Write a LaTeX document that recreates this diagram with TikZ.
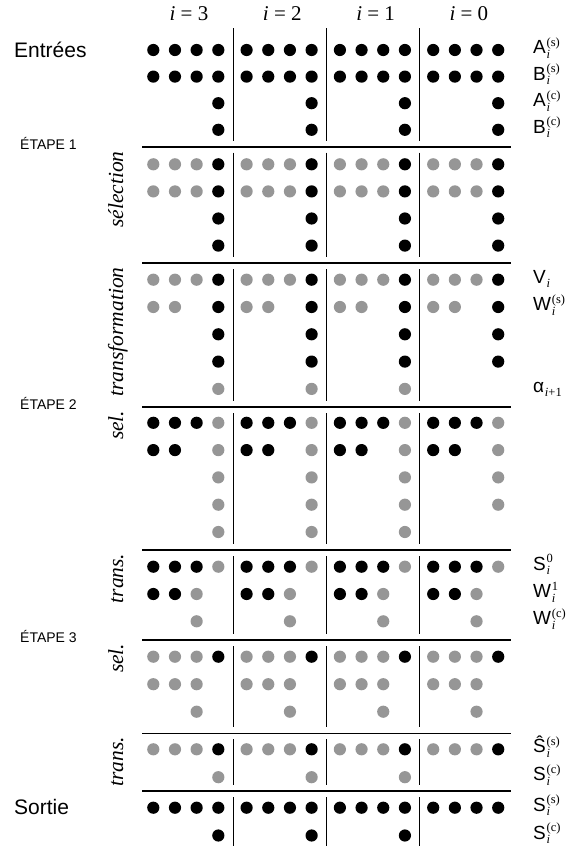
\documentclass[tikz,border=0pt]{standalone}
\usepackage{fontspec}
\setmainfont{Liberation Serif}
\setsansfont{Liberation Sans}
\definecolor{dotgray}{RGB}{150,150,150}
\newcommand{\fsz}[1]{\fontsize{#1}{#1}\selectfont}
% variable name with stacked subscript and superscript
\newcommand{\varlab}[3]{\textsf{#1}\kern0.8pt\rlap{\raisebox{-4.5pt}{\fsz{12.5}#2}}\raisebox{7.5pt}{\fsz{12.5}#3}}
% one row of dots: y, colours of the four bits, groups drawn
\newcommand{\dotrow}[3]{%
  \foreach \g in {#3}{%
    \foreach \cl [count=\k from 0] in {#2}{%
      \fill[fill=\cl] ({153.3+93.3*\g+21.67*\k},#1) circle[radius=6.1];
    }}}
% separators between the digit groups, from y1 to y2
\newcommand{\groupseps}[2]{%
  \foreach \g in {1,2,3}{%
    \draw[sepline] ({140+93.3*\g},#1) -- ({140+93.3*\g},#2);
  }}
\begin{document}
\begin{tikzpicture}[x=1pt,y=-1pt,
  sepline/.style={line width=0.9pt},
  thickrule/.style={line width=2.4pt},
  thinrule/.style={line width=1.1pt},
  hdr/.style={inner sep=0pt,anchor=base,font=\fsz{21}},
  mainlab/.style={inner sep=0pt,anchor=base west,font=\fsz{21}\sffamily},
  etape/.style={inner sep=0pt,anchor=base west,font=\fsz{14}\sffamily},
  phase/.style={inner sep=0pt,rotate=90,anchor=base east,font=\fsz{21.5}\itshape},
  varname/.style={inner sep=0pt,anchor=base west,font=\fsz{19}}]
\useasboundingbox (0,0) rectangle (568,849);

% column headers
\node[hdr] (h3) at (189,20.5) {\textit{i} = 3};
\node[hdr] (h2) at (282.3,20.5) {\textit{i} = 2};
\node[hdr] (h1) at (375.6,20.5) {\textit{i} = 1};
\node[hdr] (h0) at (468.9,20.5) {\textit{i} = 0};

% left-hand labels
\node[mainlab] (entrees) at (14,57) {Entrées};
\node[mainlab] (sortie) at (14,814.7) {Sortie};
\node[etape] (et1) at (20,149.2) {ÉTAPE 1};
\node[etape] (et2) at (20,409.5) {ÉTAPE 2};
\node[etape] (et3) at (20,642.5) {ÉTAPE 3};

% phase labels, set vertically
\node[phase] (ph1) at (123,151.2) {sélection};
\node[phase] (ph2) at (123,267.2) {transformation};
\node[phase] (ph3) at (123,410.5) {sel.};
\node[phase] (ph4) at (123,553.5) {trans.};
\node[phase] (ph5) at (123,643.5) {sel.};
\node[phase] (ph6) at (123,736.8) {trans.};

% horizontal rules between the phases
\draw[thickrule] (142.3,146.7) -- (510.5,146.7);
\draw[thinrule]  (142.3,263) -- (510.5,263);
\draw[thickrule] (142.3,407) -- (510.5,407);
\draw[thinrule]  (142.3,550) -- (510.5,550);
\draw[thickrule] (142.3,640) -- (510.5,640);
\draw[thinrule]  (142.3,733.3) -- (510.5,733.3);
\draw[thickrule] (142.3,791) -- (510.5,791);

% group separators in each block
\groupseps{28}{141}
\groupseps{152.5}{257}
\groupseps{269}{401}
\groupseps{413}{544}
\groupseps{556}{634}
\groupseps{646}{727}
\groupseps{739}{785}
\groupseps{797}{846}

% inputs
\dotrow{50}{black,black,black,black}{0,1,2,3}
\dotrow{76.6}{black,black,black,black}{0,1,2,3}
\dotrow{103.2}{none,none,none,black}{0,1,2,3}
\dotrow{129.8}{none,none,none,black}{0,1,2,3}
% step 1: selection
\dotrow{164.3}{dotgray,dotgray,dotgray,black}{0,1,2,3}
\dotrow{191.4}{dotgray,dotgray,dotgray,black}{0,1,2,3}
\dotrow{218.5}{none,none,none,black}{0,1,2,3}
\dotrow{245.6}{none,none,none,black}{0,1,2,3}
% step 1: transformation
\dotrow{279.7}{dotgray,dotgray,dotgray,black}{0,1,2,3}
\dotrow{307}{dotgray,dotgray,none,black}{0,1,2,3}
\dotrow{334.3}{none,none,none,black}{0,1,2,3}
\dotrow{361.6}{none,none,none,black}{0,1,2,3}
\dotrow{388.9}{none,none,none,dotgray}{0,1,2}
% step 2: selection
\dotrow{422.8}{black,black,black,dotgray}{0,1,2,3}
\dotrow{450.1}{black,black,none,dotgray}{0,1,2,3}
\dotrow{477.4}{none,none,none,dotgray}{0,1,2,3}
\dotrow{504.7}{none,none,none,dotgray}{0,1,2,3}
\dotrow{532}{none,none,none,dotgray}{0,1,2}
% step 2: transformation
\dotrow{566.7}{black,black,black,dotgray}{0,1,2,3}
\dotrow{594}{black,black,dotgray,none}{0,1,2,3}
\dotrow{621.3}{none,none,dotgray,none}{0,1,2,3}
% step 3: selection
\dotrow{656.7}{dotgray,dotgray,dotgray,black}{0,1,2,3}
\dotrow{684.2}{dotgray,dotgray,dotgray,none}{0,1,2,3}
\dotrow{711.7}{none,none,dotgray,none}{0,1,2,3}
% step 3: transformation
\dotrow{749.3}{dotgray,dotgray,dotgray,black}{0,1,2,3}
\dotrow{777.2}{none,none,none,dotgray}{0,1,2}
% outputs
\dotrow{807.7}{black,black,black,black}{0,1,2,3}
\dotrow{835.5}{none,none,none,black}{0,1,2}

% variable names on the right
\node[varname] (as) at (533,53.5) {\varlab{A}{\textit{i}}{(s)}};
\node[varname] (bs) at (533,80.1) {\varlab{B}{\textit{i}}{(s)}};
\node[varname] (ac) at (533,106.7) {\varlab{A}{\textit{i}}{(c)}};
\node[varname] (bc) at (533,133.3) {\varlab{B}{\textit{i}}{(c)}};
\node[varname] (v) at (533,283.2) {\varlab{V}{\textit{i}}{}};
\node[varname] (ws) at (533,310.5) {\varlab{W}{\textit{i}}{(s)}};
\node[varname] (al) at (533,392.4) {\varlab{α}{\textit{i}+1}{}};
\node[varname] (s0) at (533,570.2) {\varlab{S}{\textit{i}}{0}};
\node[varname] (w1) at (533,597.5) {\varlab{W}{\textit{i}}{1}};
\node[varname] (wc) at (533,624.8) {\varlab{W}{\textit{i}}{(c)}};
\node[varname] (sh) at (533,752.8) {\varlab{Ŝ}{\textit{i}}{(s)}};
\node[varname] (sc) at (533,780.7) {\varlab{S}{\textit{i}}{(c)}};
\node[varname] (os) at (533,811.2) {\varlab{S}{\textit{i}}{(s)}};
\node[varname] (oc) at (533,839) {\varlab{S}{\textit{i}}{(c)}};
\end{tikzpicture}
\end{document}
